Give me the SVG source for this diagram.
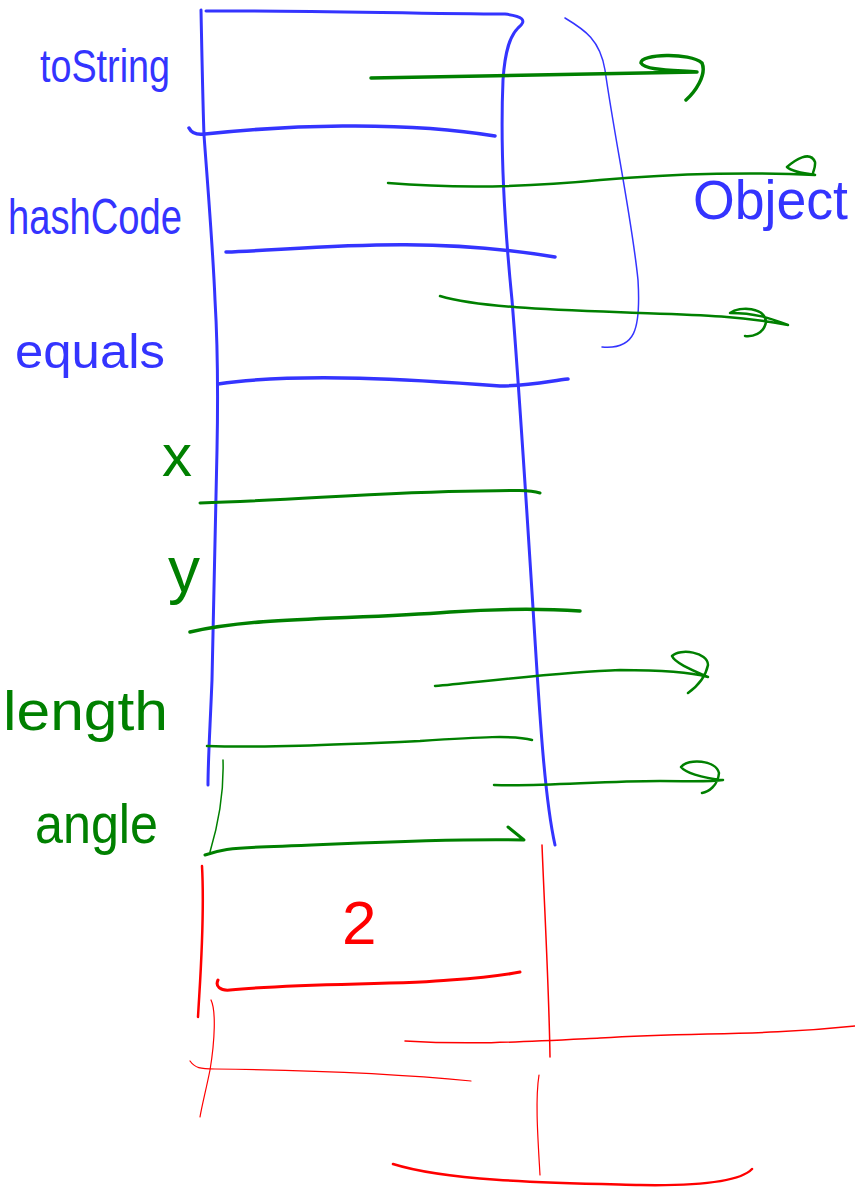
<svg xmlns="http://www.w3.org/2000/svg" width="855" height="1193" viewBox="0 0 855 1193">
<style>
.b{fill:none;stroke:#3434ff;stroke-linecap:round;stroke-linejoin:round}
.g{fill:none;stroke:#008000;stroke-linecap:round;stroke-linejoin:round}
.r{fill:none;stroke:#ff0000;stroke-linecap:round;stroke-linejoin:round}
.t{font-family:"Liberation Sans","DejaVu Sans",sans-serif;font-weight:normal}
.tb{fill:#3434ff}
.tg{fill:#008000}
.tr{fill:#ff0000}
</style>
<rect width="855" height="1193" fill="#ffffff"/>
<g id="object-frame">
<path class="b" stroke-width="3" d="M201,10 C202,60 203,110 204,135 C208,190 213,250 215,300 C218,350 218,400 217,450 C216,520 214,600 212,680 C210,730 208,760 208,785"/>
<path class="b" stroke-width="3" d="M206,11 C300,10 420,14 505,14 C522,16 528,20 518,28 C510,36 505,50 503,80 C500,150 505,230 512,300 C520,400 530,560 535,640 C540,720 545,800 555,845"/>
<path class="b" stroke-width="3.5" d="M189,128 C192,134 198,135 205,134 C280,126 400,120 495,136"/>
<path class="b" stroke-width="3.5" d="M226,252 C300,250 420,234 555,257"/>
<path class="b" stroke-width="3.5" d="M218,384 C300,372 420,380 500,386 C530,386 550,381 568,379"/>
<path class="b" stroke-width="1.5" d="M565,18 C585,30 600,40 605,70 C615,140 632,220 638,280 C641,330 635,350 602,347"/>
</g>
<g id="labels">
<text class="t tb" x="40" y="82" font-size="46" textLength="130" lengthAdjust="spacingAndGlyphs">toString</text>
<text class="t tb" x="8" y="234" font-size="50" textLength="174" lengthAdjust="spacingAndGlyphs">hashCode</text>
<text class="t tb" x="15" y="368" font-size="48" textLength="150" lengthAdjust="spacingAndGlyphs">equals</text>
<text class="t tb" x="693" y="219" font-size="56" textLength="155" lengthAdjust="spacingAndGlyphs">Object</text>
<text class="t tg" x="162" y="476" font-size="60">x</text>
<text class="t tg" x="168" y="592" font-size="64">y</text>
<text class="t tg" x="3" y="730" font-size="56" textLength="165" lengthAdjust="spacingAndGlyphs">length</text>
<text class="t tg" x="35" y="843" font-size="56" textLength="123" lengthAdjust="spacingAndGlyphs">angle</text>
<text class="t tr" x="342" y="944" font-size="62">2</text>
</g>
<g id="fields-frame">
<path class="g" stroke-width="3" d="M200,503 C300,500 380,492 480,491 C515,490 530,490 540,493"/>
<path class="g" stroke-width="3.5" d="M190,632 C260,616 350,620 450,612 C510,608 550,609 580,611"/>
<path class="g" stroke-width="2.5" d="M207,746 C260,748 330,745 420,741 C480,737 515,735 532,740"/>
<path class="g" stroke-width="1.5" d="M223,760 C224,790 218,825 210,852"/>
<path class="g" stroke-width="3" d="M205,855 C220,850 230,848 260,847 C350,844 440,838 524,840 L508,827"/>
</g>
<g id="extra-frame">
<path class="r" stroke-width="2.5" d="M202,866 C205,920 200,980 198,1017"/>
<path class="r" stroke-width="1.5" d="M542,845 C545,920 549,990 550,1057"/>
<path class="r" stroke-width="3" d="M218,980 C215,986 220,991 230,990 C300,983 400,985 450,980 C480,978 505,975 520,972"/>
<path class="r" stroke-width="1.2" d="M211,1000 C216,1010 215,1040 210,1070 C206,1090 202,1105 200,1117"/>
<path class="r" stroke-width="1.5" d="M405,1041 C470,1045 520,1042 600,1038 C700,1032 760,1036 855,1026"/>
<path class="r" stroke-width="1.2" d="M190,1061 C195,1068 200,1069 215,1069 C300,1070 400,1074 471,1081"/>
<path class="r" stroke-width="1.2" d="M539,1075 C535,1100 538,1140 540,1175"/>
<path class="r" stroke-width="2.5" d="M393,1164 C450,1182 560,1183 640,1185 C700,1186 740,1182 752,1169"/>
</g>
<g id="connectors">
<path class="g" stroke-width="3.5" d="M371,78 C450,76 550,74 697,72 C670,70 645,70 641,63 C640,54 690,52 702,63 C707,75 695,92 686,100"/>
<path class="g" stroke-width="2.5" d="M388,183 C450,188 520,188 600,180 C680,173 760,172 815,175 C800,173 790,170 787,167 C795,160 810,150 815,162 C816,170 810,174 815,175"/>
<path class="g" stroke-width="2.5" d="M440,296 C480,308 560,310 640,313 C700,315 740,316 788,325 C770,318 755,313 730,313 C740,306 765,307 766,322 C764,334 752,337 745,336"/>
<path class="g" stroke-width="2.5" d="M435,686 C480,682 560,672 620,670 C660,670 690,672 708,677 C692,670 675,663 672,656 C680,648 708,652 708,665 C705,680 695,688 688,693"/>
<path class="g" stroke-width="2.5" d="M494,785 C540,787 600,781 660,781 C690,781 710,782 723,780 C700,778 685,772 681,767 C688,758 716,760 719,773 C718,786 708,792 702,793"/>
</g>
</svg>
